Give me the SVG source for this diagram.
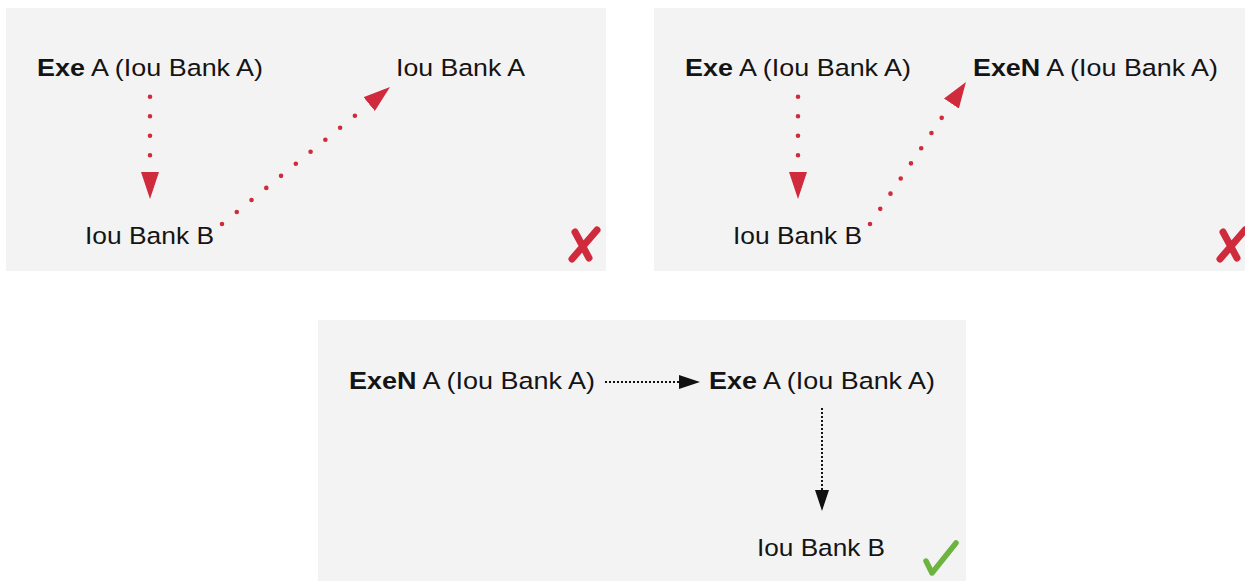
<svg xmlns="http://www.w3.org/2000/svg" width="1245" height="581" viewBox="0 0 1245 581">
<style>
.panel{fill:#f3f3f3}
.lbl{font-family:"Liberation Sans",Arial,sans-serif;font-size:24.5px;fill:#141414}
.b{font-weight:bold}
.red{fill:none;stroke:#cf2b3c;stroke-width:4.6;stroke-linecap:round}
.blk{fill:none;stroke:#111;stroke-width:2;stroke-dasharray:2 2}
.xm{fill:none;stroke:#cf2b3c;stroke-width:7;stroke-linecap:round}
.ok{fill:none;stroke:#6db33f;stroke-width:5.5;stroke-linecap:round;stroke-linejoin:round}
</style>
<defs>
<marker id="redHead" viewBox="0 0 27 18" refX="0" refY="9" markerWidth="27" markerHeight="18" markerUnits="userSpaceOnUse" orient="auto">
<path d="M0,0 L27,9 L0,18 Z" fill="#cf2b3c"/>
</marker>
<marker id="redHead2" viewBox="0 0 26 18" refX="0" refY="9" markerWidth="26" markerHeight="18" markerUnits="userSpaceOnUse" orient="auto">
<path d="M0,0 L26,9 L0,18 Z" fill="#cf2b3c"/>
</marker>
<marker id="blkHead" viewBox="0 0 21 14" refX="0" refY="7" markerWidth="21" markerHeight="14" markerUnits="userSpaceOnUse" orient="auto">
<path d="M0,0 L21,7 L0,14 Z" fill="#111"/>
</marker>
</defs>

<g id="panel1">
<rect class="panel" x="6" y="8" width="600" height="263"/>
<g id="p1-exeA"><text class="lbl" x="37" y="76" textLength="226" lengthAdjust="spacingAndGlyphs"><tspan class="b">Exe</tspan> A (Iou Bank A)</text></g>
<g id="p1-iouA"><text class="lbl" x="396" y="76" textLength="129" lengthAdjust="spacingAndGlyphs">Iou Bank A</text></g>
<g id="p1-iouB"><text class="lbl" x="85" y="244" textLength="129" lengthAdjust="spacingAndGlyphs">Iou Bank B</text></g>
<g id="p1-cross"><path class="xm" d="M597,230 L572,259 M575,232 L589,258"/></g>
</g>

<g id="panel2">
<rect class="panel" x="654" y="8" width="591" height="263"/>
<g id="p2-exeA"><text class="lbl" x="685" y="76" textLength="226" lengthAdjust="spacingAndGlyphs"><tspan class="b">Exe</tspan> A (Iou Bank A)</text></g>
<g id="p2-exeN"><text class="lbl" x="973" y="76" textLength="245" lengthAdjust="spacingAndGlyphs"><tspan class="b">ExeN</tspan> A (Iou Bank A)</text></g>
<g id="p2-iouB"><text class="lbl" x="733" y="244" textLength="129" lengthAdjust="spacingAndGlyphs">Iou Bank B</text></g>
<g id="p2-cross"><path class="xm" d="M1245,230 L1220,259 M1223,232 L1237,258"/></g>
</g>

<g id="panel3">
<rect class="panel" x="318" y="320" width="648" height="261"/>
<g id="p3-exeN"><text class="lbl" x="349" y="389" textLength="246" lengthAdjust="spacingAndGlyphs"><tspan class="b">ExeN</tspan> A (Iou Bank A)</text></g>
<g id="p3-exeA"><text class="lbl" x="709" y="389" textLength="226" lengthAdjust="spacingAndGlyphs"><tspan class="b">Exe</tspan> A (Iou Bank A)</text></g>
<g id="p3-iouB"><text class="lbl" x="757" y="556" textLength="128" lengthAdjust="spacingAndGlyphs">Iou Bank B</text></g>
<g id="p3-check"><path class="ok" d="M926,561 L932,573 L956,543"/></g>
</g>

<g id="connectors">
<path class="red" stroke-dasharray="0 19.5" d="M150,96.7 L150,172" marker-end="url(#redHead)"/>
<path class="red" stroke-dasharray="0 19.05" d="M222,224 L369.1,104.1" marker-end="url(#redHead)"/>
<path class="red" stroke-dasharray="0 19.5" d="M798,96.7 L798,172" marker-end="url(#redHead)"/>
<path class="red" stroke-dasharray="0 18.3" d="M870,224 L951.4,103.5" marker-end="url(#redHead2)"/>
<path class="blk" d="M605,382 L679,382" marker-end="url(#blkHead)"/>
<path class="blk" d="M822,408 L822,490" marker-end="url(#blkHead)"/>
</g>
</svg>
